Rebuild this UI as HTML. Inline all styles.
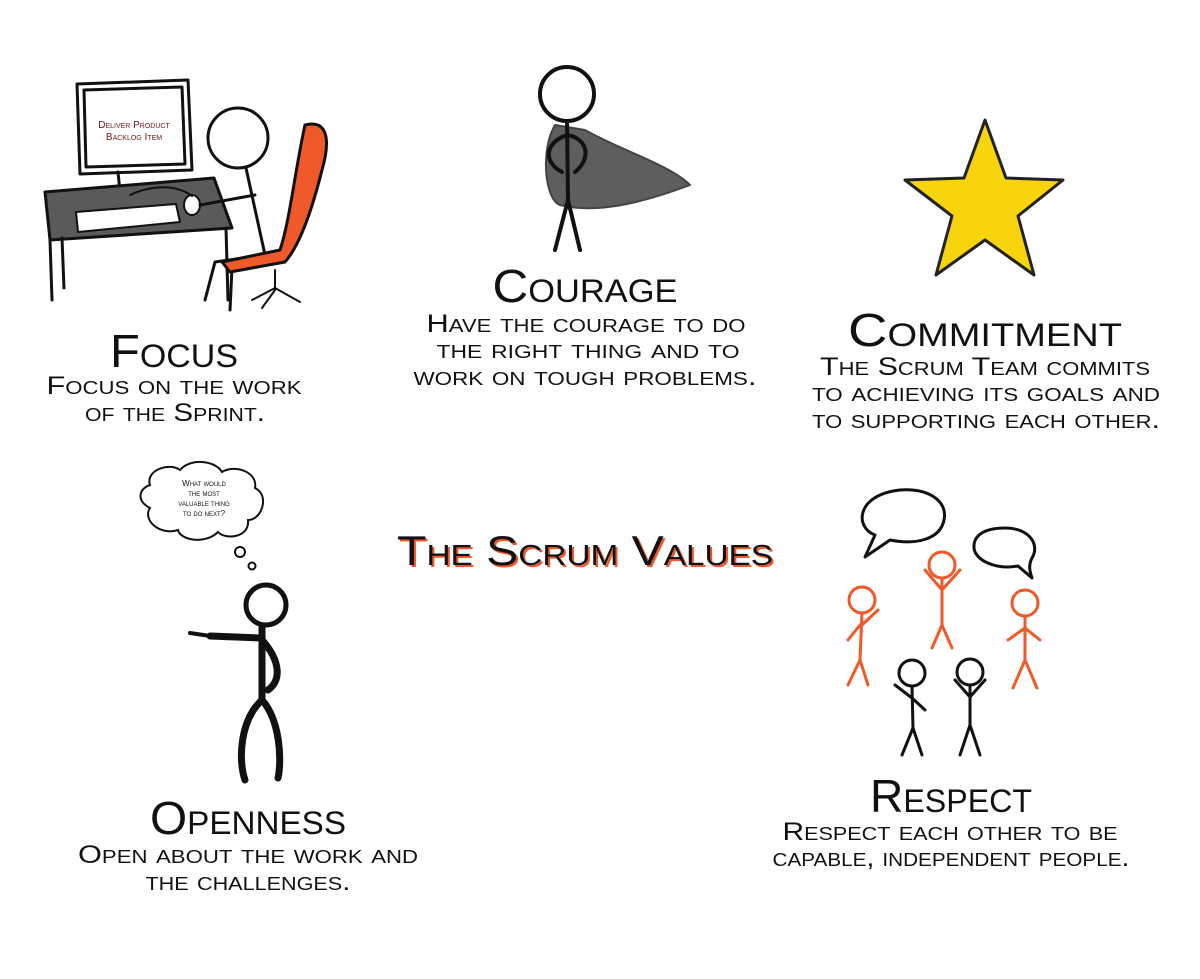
<!DOCTYPE html>
<html><head><meta charset="utf-8"><style>
html,body{margin:0;padding:0;background:#fff;}
svg{display:block}
text{font-family:"Liberation Sans",sans-serif;font-variant:small-caps;fill:#111;text-anchor:middle}
.h{font-size:46px}
.s{font-size:25px}
</style></head><body>
<svg width="1200" height="979" viewBox="0 0 1200 979" xmlns="http://www.w3.org/2000/svg">
<rect width="1200" height="979" fill="#fff"/>

<!-- FOCUS drawing -->
<g stroke="#111" stroke-width="3" stroke-linejoin="round" stroke-linecap="round">
  <!-- monitor -->
  <path d="M77,84 L188,80 L192,170 L80,174 Z" fill="#fff"/>
  <path d="M84,90 L182,87 L185,164 L86,167 Z" fill="#fff"/>
  <path d="M118,172 L120,192 M105,198 L140,196" fill="none"/>
  <!-- desk -->
  <path d="M45,192 L214,178 L232,228 L50,240 Z" fill="#5a5a5a"/>
  <path d="M50,240 L52,300 M62,238 L64,288 M226,228 L228,300" fill="none"/>
  <!-- keyboard -->
  <path d="M76,212 L176,204 L180,222 L78,232 Z" fill="#fff" stroke-width="2"/>
  <ellipse cx="192" cy="205" rx="8" ry="10" fill="#fff" stroke-width="2"/>
  <path d="M192,196 C170,180 140,190 130,195" fill="none" stroke-width="2"/>
  <!-- person -->
  <circle cx="238" cy="138" r="30" fill="#fff"/>
  <path d="M246,168 L265,255 M255,195 L200,205 M265,255 L215,262 L205,300 M265,255 L232,268 L230,310" fill="none"/>
  <!-- chair -->
  <path d="M305,125 C325,120 332,135 322,170 C312,210 300,245 285,262 L230,272 L222,262 L280,250 C290,220 295,170 305,125 Z" fill="#f0592a"/>
  <path d="M275,270 L275,290 M252,300 L275,288 L300,302 M262,308 L275,290" fill="none" stroke-width="2"/>
</g>
<text x="134" y="128" style="font-size:10px;fill:#6b1a1a">Deliver Product</text>
<text x="134" y="140" style="font-size:10px;fill:#6b1a1a">Backlog Item</text>

<text class="h" x="174" y="367" textLength="128" lengthAdjust="spacingAndGlyphs">Focus</text>
<text class="s" x="174" y="394" textLength="255" lengthAdjust="spacingAndGlyphs">Focus on the work</text>
<text class="s" x="175" y="421" textLength="180" lengthAdjust="spacingAndGlyphs">of the Sprint.</text>

<!-- COURAGE drawing -->
<g stroke="#111" stroke-width="4" stroke-linecap="round" stroke-linejoin="round" fill="none">
  <path d="M555,125 C540,150 545,200 560,205 C600,215 650,200 690,185 C670,165 620,150 585,130 Z" fill="#5e5e5e" stroke="#444" stroke-width="2"/>
  <circle cx="567" cy="94" r="27" fill="#fff"/>
  <path d="M567,121 L568,200 M568,135 C548,140 540,160 562,172 M568,135 C590,140 590,160 575,172 M568,200 L555,250 M568,200 L580,250"/>
</g>
<text class="h" x="585" y="302" textLength="185" lengthAdjust="spacingAndGlyphs">Courage</text>
<text class="s" x="586" y="332" textLength="319" lengthAdjust="spacingAndGlyphs">Have the courage to do</text>
<text class="s" x="588" y="358" textLength="303" lengthAdjust="spacingAndGlyphs">the right thing and to</text>
<text class="s" x="585" y="385" textLength="343" lengthAdjust="spacingAndGlyphs">work on tough problems.</text>

<!-- STAR -->
<polygon points="985,120 1006,178 1063,180 1018,216 1034,275 985,240 936,275 952,216 905,180 964,178" fill="#f7d40c" stroke="#222" stroke-width="3" stroke-linejoin="round"/>
<text class="h" x="985" y="346" textLength="274" lengthAdjust="spacingAndGlyphs">Commitment</text>
<text class="s" x="985" y="375" textLength="330" lengthAdjust="spacingAndGlyphs">The Scrum Team commits</text>
<text class="s" x="986" y="401" textLength="348" lengthAdjust="spacingAndGlyphs">to achieving its goals and</text>
<text class="s" x="986" y="428" textLength="348" lengthAdjust="spacingAndGlyphs">to supporting each other.</text>

<!-- TITLE -->
<text class="h" x="587" y="567" style="font-size:42px;fill:#f0592a" textLength="376" lengthAdjust="spacingAndGlyphs">The Scrum Values</text>
<text class="h" x="585" y="565" style="font-size:42px" textLength="376" lengthAdjust="spacingAndGlyphs">The Scrum Values</text>

<!-- OPENNESS drawing -->
<g stroke="#111" stroke-width="2" fill="#fff">
  <path d="M150,485 C145,470 170,462 180,470 C190,458 215,460 222,472 C235,464 258,472 255,488 C270,495 262,520 248,520 C250,538 225,540 218,532 C205,545 180,540 178,530 C160,536 142,520 150,508 C135,500 140,488 150,485 Z"/>
  <circle cx="240" cy="552" r="5"/><circle cx="252" cy="566" r="3.5"/>
</g>
<g style="font-size:8px">
<text x="204" y="486" style="font-size:8px">What would</text>
<text x="204" y="496" style="font-size:8px">the most</text>
<text x="204" y="506" style="font-size:8px">valuable thing</text>
<text x="204" y="516" style="font-size:8px">to do next?</text>
</g>
<g stroke="#111" stroke-width="7" stroke-linecap="round" stroke-linejoin="round" fill="none">
  <circle cx="266" cy="605" r="20" stroke-width="5" fill="#fff"/>
  <path d="M262,627 L262,700 M260,638 L210,636 M262,640 C280,660 282,680 268,690 M262,700 C240,720 238,760 245,780 M262,700 C280,720 282,760 278,778"/>
  <path d="M190,633 L210,636" stroke-width="4"/>
</g>
<text class="h" x="248" y="834" textLength="196" lengthAdjust="spacingAndGlyphs">Openness</text>
<text class="s" x="248" y="863" textLength="340" lengthAdjust="spacingAndGlyphs">Open about the work and</text>
<text class="s" x="248" y="890" textLength="205" lengthAdjust="spacingAndGlyphs">the challenges.</text>

<!-- RESPECT drawing -->
<g stroke="#111" stroke-width="3" fill="#fff" stroke-linejoin="round">
  <path d="M900,490 C930,488 948,502 944,520 C940,540 915,545 890,540 L865,557 L875,535 C855,528 855,495 900,490 Z"/>
  <path d="M1005,528 C1030,528 1040,545 1032,558 C1028,566 1030,572 1032,578 L1018,566 C995,570 975,560 974,548 C973,535 985,528 1005,528 Z"/>
</g>
<g stroke="#f0592a" stroke-width="3" fill="#fff" stroke-linecap="round">
  <circle cx="862" cy="600" r="13"/><path d="M862,613 L860,660 M860,625 L848,640 M862,625 L878,610 M860,660 L848,685 M860,660 L868,685" fill="none"/>
  <circle cx="942" cy="565" r="13"/><path d="M942,578 L942,625 M942,590 L925,570 M942,590 L960,570 M942,625 L932,648 M942,625 L952,648" fill="none"/>
  <circle cx="1025" cy="603" r="13"/><path d="M1025,616 L1025,660 M1025,628 L1008,640 M1025,628 L1040,640 M1025,660 L1013,688 M1025,660 L1037,688" fill="none"/>
</g>
<g stroke="#111" stroke-width="3" fill="#fff" stroke-linecap="round">
  <circle cx="912" cy="673" r="13"/><path d="M912,686 L913,728 M912,698 L895,685 M912,698 L925,710 M913,728 L902,755 M913,728 L922,755" fill="none"/>
  <circle cx="970" cy="672" r="13"/><path d="M970,685 L970,725 M970,697 L955,680 M970,697 L985,680 M970,725 L960,755 M970,725 L980,755" fill="none"/>
</g>
<text class="h" x="951" y="812" textLength="162" lengthAdjust="spacingAndGlyphs">Respect</text>
<text class="s" x="950" y="840" textLength="335" lengthAdjust="spacingAndGlyphs">Respect each other to be</text>
<text class="s" x="951" y="866" textLength="357" lengthAdjust="spacingAndGlyphs">capable, independent people.</text>
</svg>
</body></html>
